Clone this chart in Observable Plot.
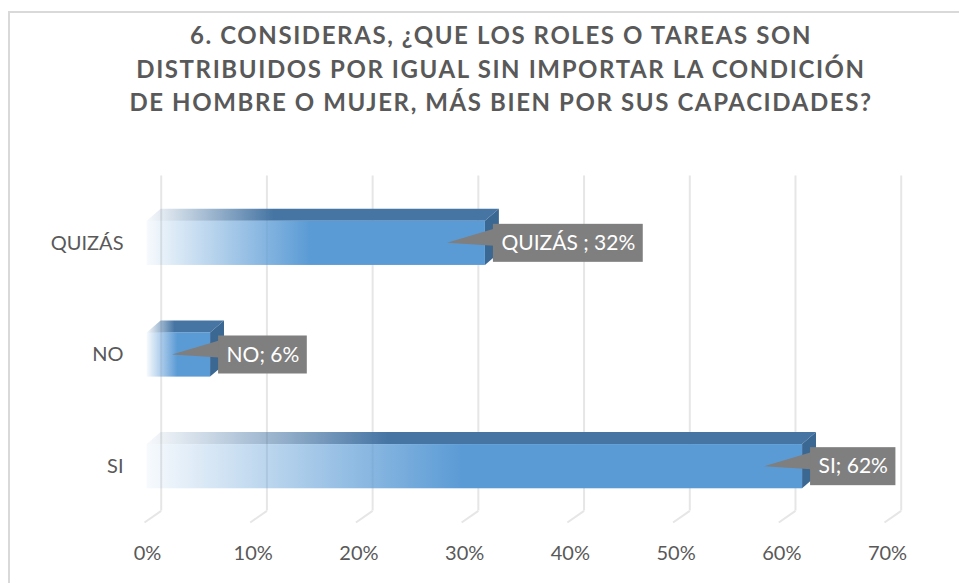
<!DOCTYPE html>
<html>
<head>
<meta charset="utf-8">
<script src="https://cdn.jsdelivr.net/npm/d3@7"></script>
<script src="https://cdn.jsdelivr.net/npm/@observablehq/plot@0.6"></script>
<style>
  html, body { margin: 0; padding: 0; background: #fff; overflow: hidden; width: 959px; height: 583px; }
  #frame { position: absolute; left: 8px; top: 11px; width: 2000px; height: 2000px; border: 2px solid #d9d9d9; box-sizing: border-box; }
  #title { position: absolute; left: 0; top: 18px; width: 1002px; text-align: center; font-family: Lato, sans-serif; font-weight: bold; font-size: 24px; letter-spacing: 1.6px; line-height: 33.5px; color: #595959; }
  #chart { position: absolute; left: 0; top: 0; }
</style>
</head>
<body>
<svg width="0" height="0" style="position:absolute">
  <defs>
    <linearGradient id="frontGrad" x1="0" x2="1" y1="0" y2="0">
      <stop offset="0" stop-color="#5b9bd5" stop-opacity="0.05"/>
      <stop offset="0.48" stop-color="#5b9bd5" stop-opacity="1"/>
      <stop offset="1" stop-color="#5b9bd5" stop-opacity="1"/>
    </linearGradient>
    <linearGradient id="topGrad" x1="0" x2="1" y1="0" y2="0">
      <stop offset="0" stop-color="#4675a4" stop-opacity="0.04"/>
      <stop offset="0.36" stop-color="#4675a4" stop-opacity="1"/>
      <stop offset="1" stop-color="#4675a4" stop-opacity="1"/>
    </linearGradient>
  </defs>
</svg>
<div id="frame"></div>
<div id="title"></div>
<div id="chart"></div>
<script>
// ---- data ----
const titleLines = [
  "6. CONSIDERAS, ¿QUE LOS ROLES O TAREAS SON",
  "DISTRIBUIDOS POR IGUAL SIN IMPORTAR LA CONDICIÓN",
  "DE HOMBRE O MUJER, MÁS BIEN POR SUS CAPACIDADES?"
];
const categories = ["SI", "NO", "QUIZÁS"];          // bottom to top
const values = [62, 6, 32];                          // percent
const labelTexts = ["SI; 62%", "NO; 6%", "QUIZÁS ; 32%"];
const xTicks = [0, 10, 20, 30, 40, 50, 60, 70];

document.getElementById("title").innerHTML = titleLines.join("<br>");

const bars = categories.map((c, i) => ({cat: c, idx: i, value: values[i], label: labelTexts[i]}));

// ---- 3D geometry (in data units) ----
const DX = 1.58, DY = 0.104;      // floor depth
const bDX = 1.32, bDY = 0.107;    // bar depth
const fX = 0.25;                  // bar front offset from front plane
const H2 = 0.198;                 // half bar thickness

const topPts = bars.flatMap(b => [
  {cat: b.cat, y: b.idx + H2, x1: fX, x2: b.value + fX},
  {cat: b.cat, y: b.idx + H2 + bDY, x1: fX + bDX, x2: b.value + fX + bDX}
]);
const sidePts = bars.flatMap(b => [
  {cat: b.cat, x: b.value + fX, y1: b.idx - H2, y2: b.idx + H2},
  {cat: b.cat, x: b.value + fX + bDX, y1: b.idx - H2 + bDY, y2: b.idx + H2 + bDY}
]);

const grid = "#e6e6e6";
const txt = "#595959";

const plot = Plot.plot({
  width: 959,
  height: 583,
  marginLeft: 144,
  marginRight: 75,
  marginTop: 187,
  marginBottom: 61,
  style: {fontFamily: "Lato, sans-serif", background: "transparent"},
  x: {domain: [0, 70], axis: null},
  y: {domain: [-0.5, 2.5], axis: null},
  marks: [
    Plot.ruleX(xTicks, {x: d => d + DX, y1: () => -0.5 + DY, y2: () => 2.5 + DY, stroke: grid, strokeWidth: 2}),
    Plot.link(xTicks, {x1: d => d, y1: () => -0.5, x2: d => d + DX, y2: () => -0.5 + DY, stroke: grid, strokeWidth: 2}),
    Plot.areaX(topPts, {y: "y", x1: "x1", x2: "x2", z: "cat", fill: "url(#topGrad)"}),
    Plot.areaY(sidePts, {x: "x", y1: "y1", y2: "y2", z: "cat", fill: "#3b6893"}),
    Plot.rect(bars, {x1: () => fX, x2: d => d.value + fX, y1: d => d.idx - H2, y2: d => d.idx + H2, fill: "url(#frontGrad)"}),
    Plot.text(bars, {x: () => 0, y: "idx", text: "cat", textAnchor: "end", dx: -21, fill: txt, fontSize: 20}),
    Plot.text(xTicks, {x: d => d, y: () => -0.5, text: d => d + "%", dx: 3, dy: 31, fill: txt, fontSize: 20}),
    Plot.text(bars, {x: d => d.value + fX, y: "idx", text: "label", textAnchor: "start", dx: 16, fill: "white", fontSize: 21})
  ]
});
document.getElementById("chart").appendChild(plot);

// label boxes with callout pointers, drawn beneath the label texts
const xs = plot.scale("x"), ys = plot.scale("y");
const svg = d3.select(plot);
const labelNodes = svg.selectAll("text").nodes().filter(n => labelTexts.includes(n.textContent));
if (labelNodes.length) {
  const parent = labelNodes[0].parentNode;
  const boxG = d3.select(parent.parentNode).insert("g", () => parent);
  labelNodes.forEach(node => {
    const b = bars.find(d => d.label === node.textContent);
    const end = xs.apply(b.value + fX);
    const cy = ys.apply(b.idx);
    const boxLeft = end + 8;
    const boxW = node.getComputedTextLength() + 16;
    boxG.append("polygon")
      .attr("points", [[end - 38, cy], [boxLeft + 1, cy - 14], [boxLeft + 1, cy + 3]].map(p => p.join(",")).join(" "))
      .attr("fill", "#7f7f7f");
    boxG.append("rect")
      .attr("x", boxLeft).attr("y", cy - 19).attr("width", boxW).attr("height", 38)
      .attr("fill", "#7f7f7f");
  });
}
</script>
</body>
</html>
